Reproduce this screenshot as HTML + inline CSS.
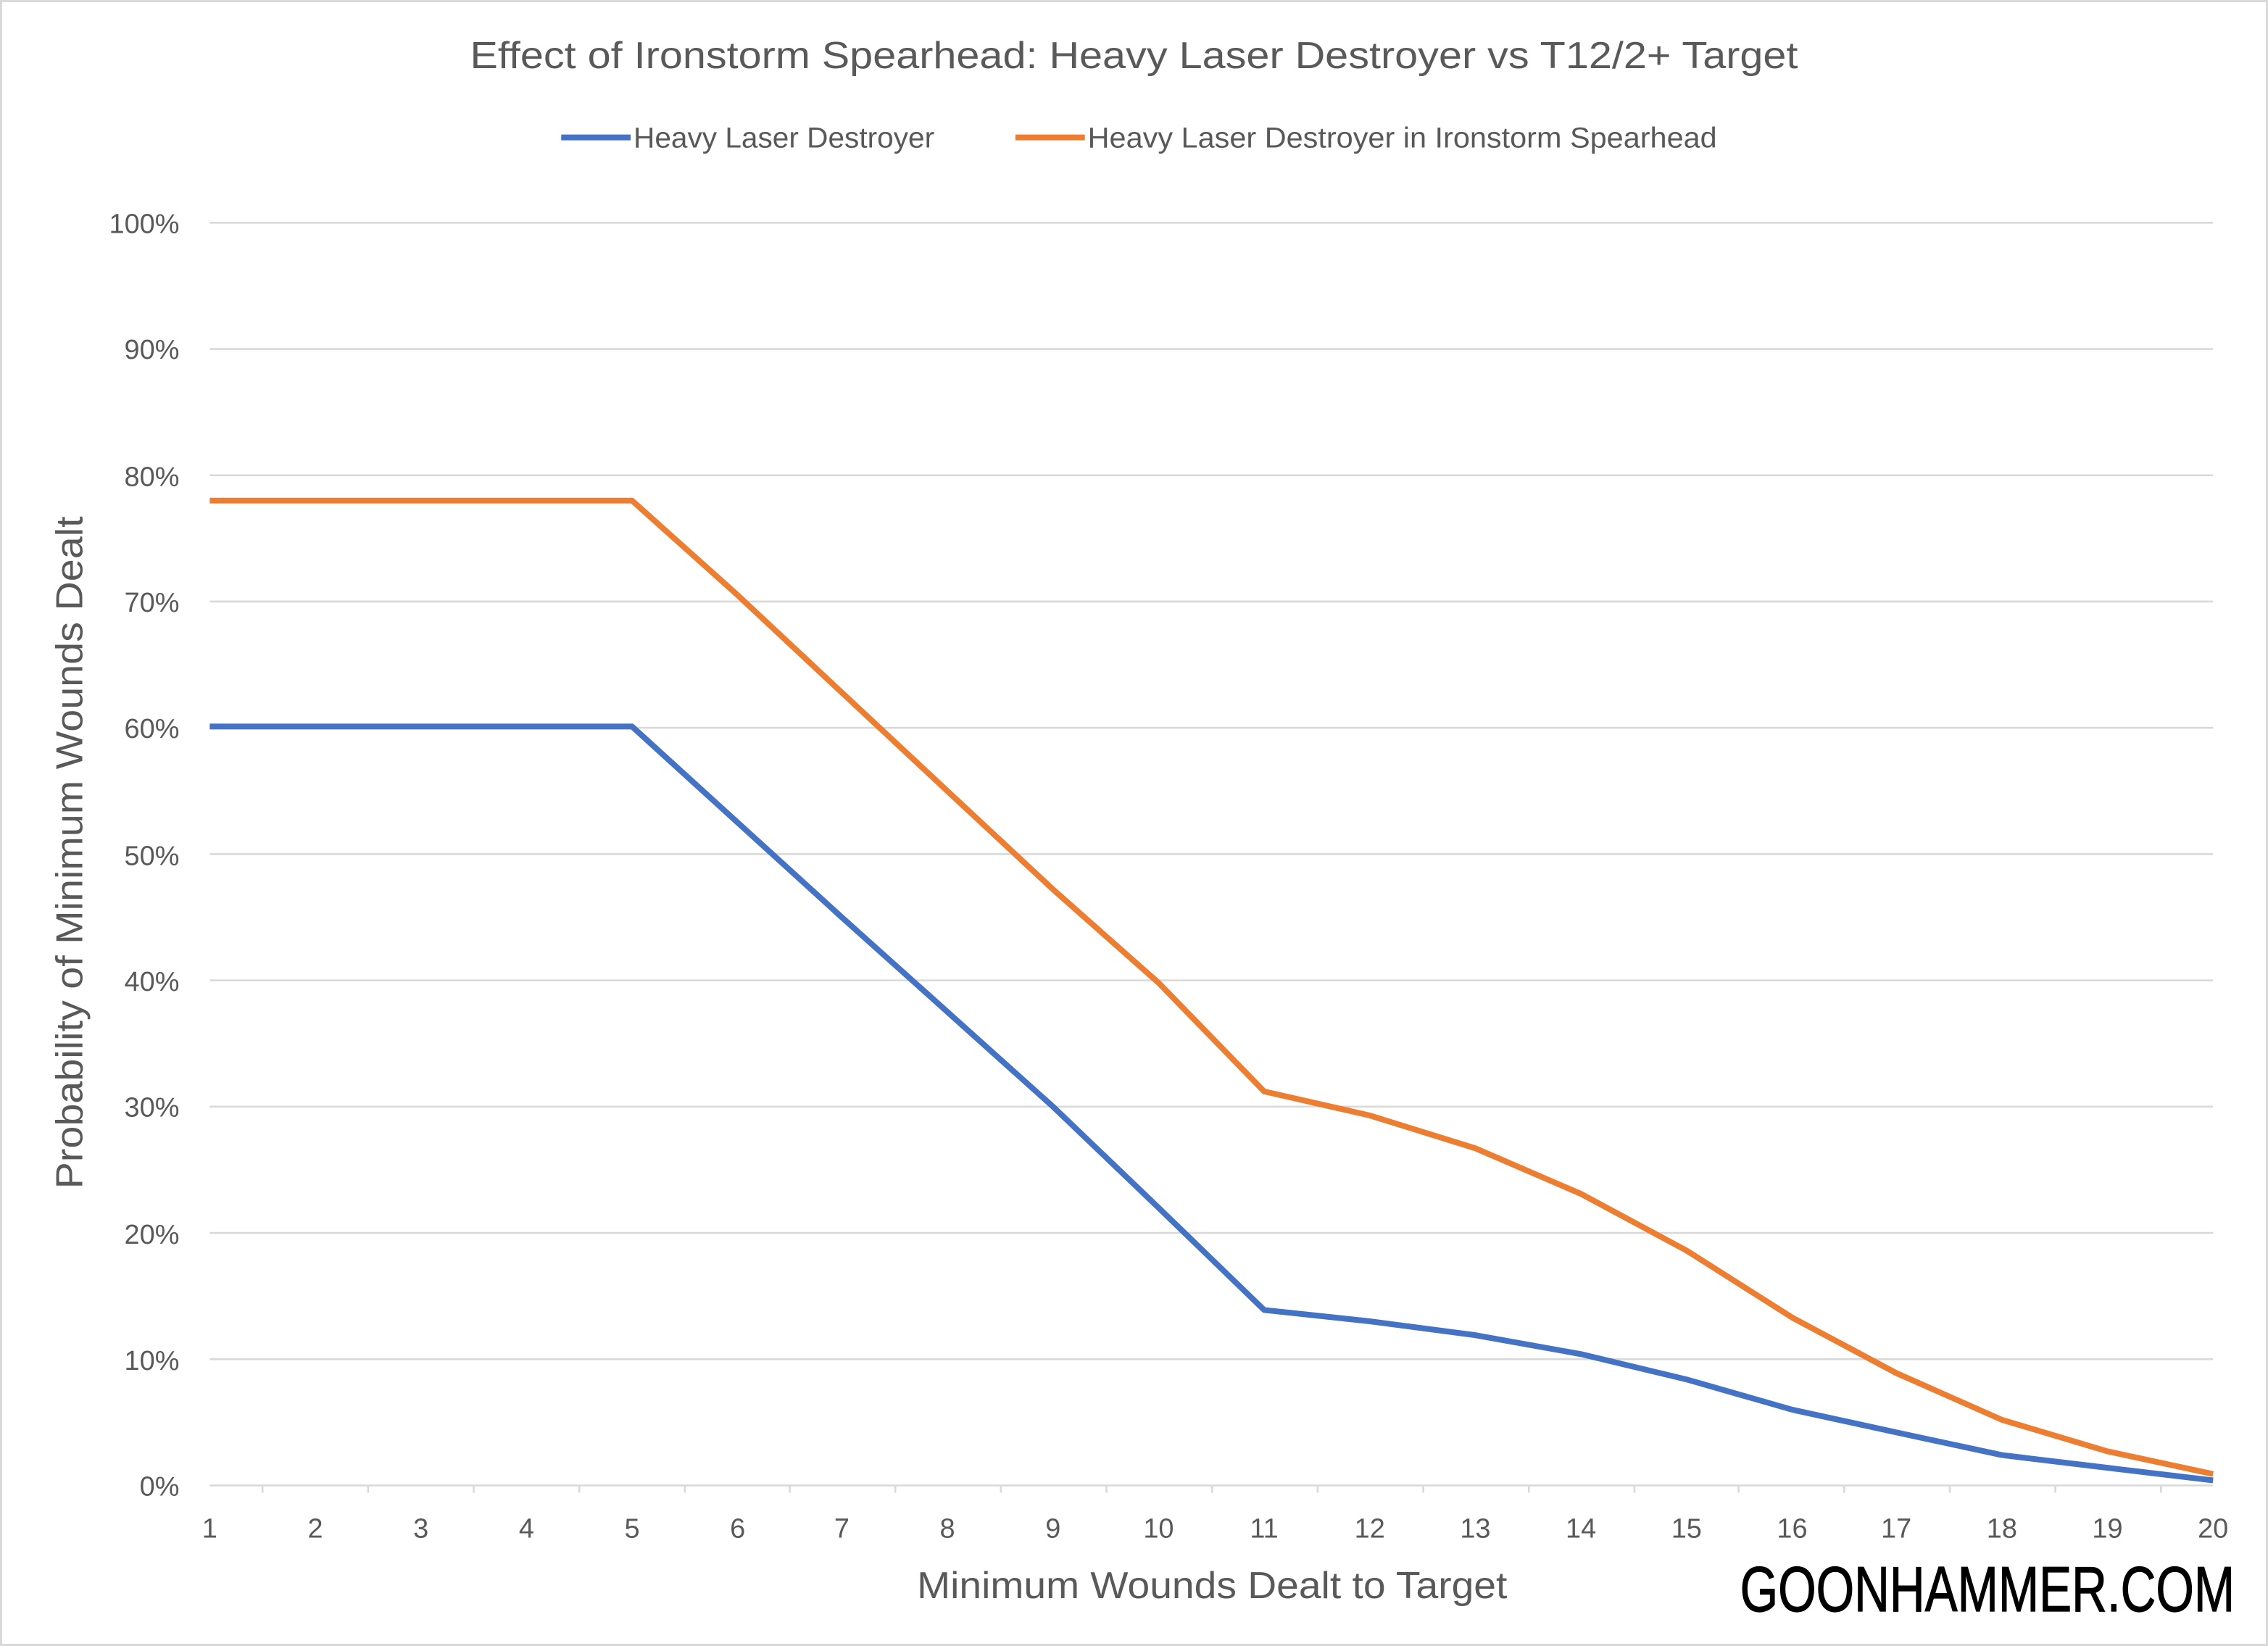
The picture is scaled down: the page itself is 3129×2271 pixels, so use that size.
<!DOCTYPE html>
<html><head><meta charset="utf-8"><style>
html,body{margin:0;padding:0;background:#fff;}
svg{display:block;}
</style></head><body>
<svg width="3129" height="2271" viewBox="0 0 1568 1138" preserveAspectRatio="none" xmlns="http://www.w3.org/2000/svg" font-family="Liberation Sans, DejaVu Sans, sans-serif">
<rect x="0" y="0" width="1568" height="1138" fill="#fff"/>
<rect x="0.75" y="0.75" width="1566.5" height="1136.5" fill="none" stroke="#d9d9d9" stroke-width="1.5"/>
<text x="325" y="47" font-size="26" fill="#595959" textLength="918" lengthAdjust="spacingAndGlyphs">Effect of Ironstorm Spearhead: Heavy Laser Destroyer vs T12/2+ Target</text>
<line x1="388" y1="95" x2="436" y2="95" stroke="#4472c4" stroke-width="4"/>
<text x="438" y="102" font-size="20" fill="#595959" textLength="208" lengthAdjust="spacingAndGlyphs">Heavy Laser Destroyer</text>
<line x1="702" y1="95" x2="750" y2="95" stroke="#ed7d31" stroke-width="4"/>
<text x="752" y="102" font-size="20" fill="#595959" textLength="435" lengthAdjust="spacingAndGlyphs">Heavy Laser Destroyer in Ironstorm Spearhead</text>
<g stroke="#d9d9d9" stroke-width="1.3">
<line x1="145" x2="1530" y1="154" y2="154"/><line x1="145" x2="1530" y1="241.3" y2="241.3"/>
<line x1="145" x2="1530" y1="328.6" y2="328.6"/><line x1="145" x2="1530" y1="415.9" y2="415.9"/>
<line x1="145" x2="1530" y1="503.2" y2="503.2"/><line x1="145" x2="1530" y1="590.5" y2="590.5"/>
<line x1="145" x2="1530" y1="677.8" y2="677.8"/><line x1="145" x2="1530" y1="765.1" y2="765.1"/>
<line x1="145" x2="1530" y1="852.4" y2="852.4"/><line x1="145" x2="1530" y1="939.7" y2="939.7"/>
<line x1="145" x2="1530" y1="1027" y2="1027"/>
</g>
<g stroke="#d9d9d9" stroke-width="1.3">
<line x1="181.5" x2="181.5" y1="1027" y2="1032"/><line x1="254.5" x2="254.5" y1="1027" y2="1032"/><line x1="327.5" x2="327.5" y1="1027" y2="1032"/><line x1="400.5" x2="400.5" y1="1027" y2="1032"/><line x1="473.5" x2="473.5" y1="1027" y2="1032"/><line x1="546" x2="546" y1="1027" y2="1032"/><line x1="619" x2="619" y1="1027" y2="1032"/><line x1="692" x2="692" y1="1027" y2="1032"/><line x1="765" x2="765" y1="1027" y2="1032"/><line x1="838" x2="838" y1="1027" y2="1032"/><line x1="911" x2="911" y1="1027" y2="1032"/><line x1="984" x2="984" y1="1027" y2="1032"/><line x1="1057" x2="1057" y1="1027" y2="1032"/><line x1="1130" x2="1130" y1="1027" y2="1032"/><line x1="1202" x2="1202" y1="1027" y2="1032"/><line x1="1275" x2="1275" y1="1027" y2="1032"/><line x1="1348" x2="1348" y1="1027" y2="1032"/><line x1="1421" x2="1421" y1="1027" y2="1032"/><line x1="1494" x2="1494" y1="1027" y2="1032"/>
</g>
<g font-size="19" fill="#595959" text-anchor="end">
<text x="124" y="161">100%</text><text x="124" y="248">90%</text><text x="124" y="336">80%</text>
<text x="124" y="423">70%</text><text x="124" y="510">60%</text><text x="124" y="598">50%</text>
<text x="124" y="685">40%</text><text x="124" y="772">30%</text><text x="124" y="860">20%</text>
<text x="124" y="947">10%</text><text x="124" y="1034">0%</text>
</g>
<g font-size="19" fill="#595959" text-anchor="middle">
<text x="145" y="1063">1</text><text x="218" y="1063">2</text><text x="291" y="1063">3</text><text x="364" y="1063">4</text><text x="437" y="1063">5</text><text x="510" y="1063">6</text><text x="582" y="1063">7</text><text x="655" y="1063">8</text><text x="728" y="1063">9</text><text x="801" y="1063">10</text><text x="874" y="1063">11</text><text x="947" y="1063">12</text><text x="1020" y="1063">13</text><text x="1093" y="1063">14</text><text x="1166" y="1063">15</text><text x="1239" y="1063">16</text><text x="1311" y="1063">17</text><text x="1384" y="1063">18</text><text x="1457" y="1063">19</text><text x="1530" y="1063">20</text>
</g>
<text x="634" y="1105" font-size="26" fill="#595959" textLength="408" lengthAdjust="spacingAndGlyphs">Minimum Wounds Dealt to Target</text>
<text transform="translate(57,822) rotate(-90)" font-size="26" fill="#595959" textLength="465" lengthAdjust="spacingAndGlyphs">Probability of Minimum Wounds Dealt</text>
<polyline fill="none" stroke="#4472c4" stroke-width="4" stroke-linejoin="round" points="145,502.3 218,502.3 291,502.3 364,502.3 437,502.3 510,568.7 582,634.2 655,699.6 728,765.1 801,835 874,905.7 947,913.5 1020,923.1 1093,936.2 1166,953.7 1239,974.6 1311,990.3 1384,1006 1457,1014.8 1530,1023.5"/>
<polyline fill="none" stroke="#ed7d31" stroke-width="4" stroke-linejoin="round" points="145,346.1 218,346.1 291,346.1 364,346.1 437,346.1 510,411.5 582,478.8 655,546.9 728,614.9 801,679.5 874,754.6 947,771.2 1020,793.9 1093,825.4 1166,864.6 1239,910.9 1311,949.3 1384,981.6 1457,1003.4 1530,1019.1"/>
<text x="1203" y="1114" font-size="44" fill="#000" stroke="#000" stroke-width="0.6" font-family="Liberation Sans Narrow, Liberation Sans, sans-serif" textLength="342" lengthAdjust="spacingAndGlyphs">GOONHAMMER.COM</text>
</svg>
</body></html>
